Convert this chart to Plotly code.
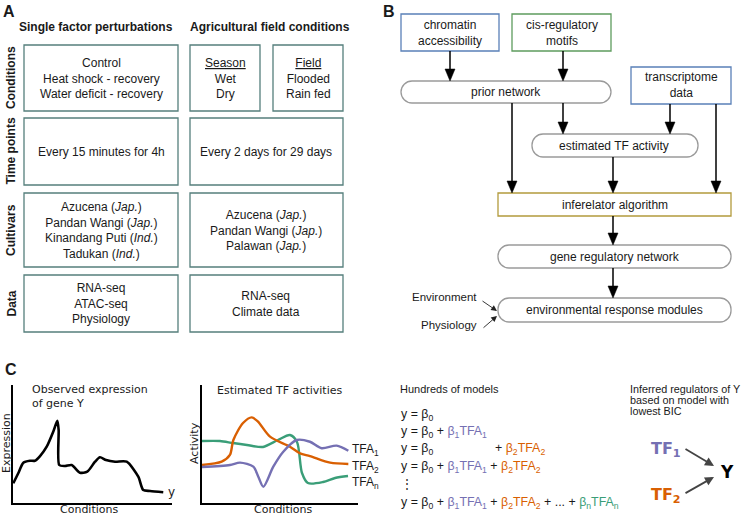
import plotly.graph_objects as go

W, H = 742, 517
ARIAL = "Liberation Sans, Arial, sans-serif"
DEJAVU = "DejaVu Sans, sans-serif"
INK = "#1a1a1a"

# ---------------- Panel A content ----------------
col_headers = ["Single factor perturbations", "Agricultural field conditions"]
row_labels = ["Conditions", "Time points", "Cultivars", "Data"]
single_conditions = ["Control", "Heat shock - recovery", "Water deficit - recovery"]
season_items = ["<u>Season</u>", "Wet", "Dry"]
field_items = ["<u>Field</u>", "Flooded", "Rain fed"]
single_time = ["Every 15 minutes for 4h"]
field_time = ["Every 2 days for 29 days"]
single_cultivars = ["Azucena (<i>Jap.</i>)", "Pandan Wangi (<i>Jap.</i>)",
                    "Kinandang Puti (<i>Ind.</i>)", "Tadukan (<i>Ind.</i>)"]
field_cultivars = ["Azucena (<i>Jap.</i>)", "Pandan Wangi (<i>Jap.</i>)", "Palawan (<i>Jap.</i>)"]
single_data = ["RNA-seq", "ATAC-seq", "Physiology"]
field_data = ["RNA-seq", "Climate data"]

# ---------------- Panel B content ----------------
input_nodes = ["chromatin<br>accessibility", "cis-regulatory<br>motifs", "transcriptome<br>data"]
process_nodes = ["prior network", "estimated TF activity", "inferelator algorithm",
                 "gene regulatory network", "environmental response modules"]
side_inputs = ["Environment", "Physiology"]

# ---------------- Panel C data ----------------
expr_x = [0.02, 0.33, 0.65, 1.07, 1.38, 1.70, 2.12, 2.53, 2.79, 2.87, 2.91, 3.27, 3.69,
          4.21, 4.67, 5.16, 5.47, 5.85, 6.42, 7.15, 7.88, 8.19, 8.62, 9.45]
expr_y = [1.67, 2.52, 3.42, 3.58, 3.58, 3.98, 4.77, 6.04, 6.97, 6.19, 3.22, 3.14, 3.22,
          2.57, 2.65, 3.50, 3.87, 3.64, 3.50, 3.50, 2.23, 1.10, 1.02, 0.91]

tfa1_x = [0.0, 1.79, 2.44, 3.29, 3.61, 3.93, 4.57, 5.21, 6.07, 6.92, 7.67, 8.63, 9.38]
tfa1_y = [3.05, 3.22, 3.42, 3.08, 2.23, 1.38, 3.08, 4.35, 5.34, 5.19, 4.64, 4.86, 4.43]
tfa2_x = [0.0, 1.26, 1.79, 2.01, 2.63, 3.19, 3.59, 4.36, 5.64, 6.28, 6.92, 8.21, 9.38]
tfa2_y = [3.22, 3.50, 4.07, 5.34, 6.78, 7.26, 6.89, 5.62, 4.77, 4.21, 3.98, 3.42, 3.31]
tfan_x = [0.0, 1.15, 1.99, 2.88, 3.91, 4.87, 5.64, 6.09, 6.41, 6.79, 7.76, 8.53, 9.36]
tfan_y = [5.25, 5.25, 5.08, 4.92, 4.75, 5.34, 5.76, 5.17, 2.54, 1.69, 1.78, 2.12, 2.29]
tfa_labels = ["TFA<sub>1</sub>", "TFA<sub>2</sub>", "TFA<sub>n</sub>"]

PURPLE, ORANGE, GREEN = "#7570b3", "#d95f02", "#3a9e78"

B0 = "β<sub>0</sub>"
T1 = f"<span style='color:{PURPLE}'>β<sub>1</sub>TFA<sub>1</sub></span>"
T2 = f"<span style='color:{ORANGE}'>β<sub>2</sub>TFA<sub>2</sub></span>"
TN = f"<span style='color:{GREEN}'>β<sub>n</sub>TFA<sub>n</sub></span>"
equations = [
    f"y = {B0}",
    f"y = {B0} + {T1}",
    f"y = {B0}",
    f"y = {B0} + {T1} + {T2}",
    "⋮",
    f"y = {B0} + {T1} + {T2} + ... + {TN}",
]
eq3_extra = f"+ {T2}"
bic_lines = ["Inferred regulators of Y", "based on model with", "lowest BIC"]

# ---------------- helpers ----------------
def X(v):
    return v / W

def Y(v):
    return 1 - v / H

shapes = []
annotations = []

def rect(x0, y0, x1, y1, color, width=1.3):
    shapes.append(dict(type="rect", xref="paper", yref="paper",
                       x0=X(x0), x1=X(x1), y0=Y(y1), y1=Y(y0),
                       line=dict(color=color, width=width), fillcolor="rgba(0,0,0,0)"))

def rounded(x0, y0, x1, y1, color="#9a9a9a", width=1.3):
    r = min(11, (y1 - y0) / 2)
    k = 0.5523 * r
    p = (f"M{X(x0+r)},{Y(y0)} L{X(x1-r)},{Y(y0)} "
         f"C{X(x1-r+k)},{Y(y0)} {X(x1)},{Y(y0+r-k)} {X(x1)},{Y(y0+r)} "
         f"L{X(x1)},{Y(y1-r)} "
         f"C{X(x1)},{Y(y1-r+k)} {X(x1-r+k)},{Y(y1)} {X(x1-r)},{Y(y1)} "
         f"L{X(x0+r)},{Y(y1)} "
         f"C{X(x0+r-k)},{Y(y1)} {X(x0)},{Y(y1-r+k)} {X(x0)},{Y(y1-r)} "
         f"L{X(x0)},{Y(y0+r)} "
         f"C{X(x0)},{Y(y0+r-k)} {X(x0+r-k)},{Y(y0)} {X(x0+r)},{Y(y0)} Z")
    shapes.append(dict(type="path", xref="paper", yref="paper", path=p,
                       line=dict(color=color, width=width), fillcolor="rgba(0,0,0,0)"))

def arrow_down(x, y0, y1, head=12, half=5, with_head=True):
    end = y1 - head + 1 if with_head else y1
    shapes.append(dict(type="line", xref="paper", yref="paper",
                       x0=X(x), x1=X(x), y0=Y(y0), y1=Y(end),
                       line=dict(color="black", width=1.5)))
    if with_head:
        p = f"M{X(x-half)},{Y(y1-head)} L{X(x+half)},{Y(y1-head)} L{X(x)},{Y(y1)} Z"
        shapes.append(dict(type="path", xref="paper", yref="paper", path=p,
                           line=dict(color="black", width=0.5), fillcolor="black"))

def txt(x, y, text, size=12, family=ARIAL, color=INK, xanchor="center", angle=0):
    annotations.append(dict(x=X(x), y=Y(y), xref="paper", yref="paper", text=text,
                            showarrow=False, xanchor=xanchor, yanchor="middle",
                            textangle=angle, font=dict(size=size, family=family, color=color)))

def arrow_ann(hx, hy, tx, ty, color, width, size, head=2):
    annotations.append(dict(x=X(hx), y=Y(hy), xref="paper", yref="paper", text="",
                            showarrow=True, ax=tx - hx, ay=ty - hy,
                            arrowhead=head, arrowwidth=width, arrowsize=size,
                            arrowcolor=color, standoff=0, startstandoff=0))

# ---------------- Panel A ----------------
A_COL = "#557f7c"
txt(9, 11, "<b>A</b>", size=16)
txt(96, 27, f"<b>{col_headers[0]}</b>", size=12)
txt(270, 27, f"<b>{col_headers[1]}</b>", size=12)
row_y = [(45, 111), (118, 185), (193, 267), (275, 332)]
for lab, (a, b) in zip(row_labels, row_y):
    txt(11, (a + b) / 2, f"<b>{lab}</b>", size=12, angle=-90)
    rect(24, a, 178, b, A_COL)
rect(190, 45, 260, 111, A_COL)
rect(273, 45, 343, 111, A_COL)
for (a, b) in row_y[1:]:
    rect(190, a, 343, b, A_COL)

txt(101, 78, "<br>".join(single_conditions))
txt(225, 78, "<br>".join(season_items))
txt(308, 78, "<br>".join(field_items))
txt(101, 152, "<br>".join(single_time))
txt(266, 152, "<br>".join(field_time))
txt(101, 230.5, "<br>".join(single_cultivars))
txt(266, 230.7, "<br>".join(field_cultivars))
txt(101, 303.3, "<br>".join(single_data))
txt(266, 304, "<br>".join(field_data))

# ---------------- Panel B ----------------
txt(389, 11, "<b>B</b>", size=16)
BLUE, BGREEN, OLIVE = "#5a80b8", "#5e9c5e", "#b39b3c"
rect(401, 14, 499, 51, BLUE)
rect(512, 14, 611, 51, BGREEN)
rect(631, 67, 731, 104, BLUE)
txt(450, 33, input_nodes[0])
txt(561.5, 33, input_nodes[1])
txt(681, 85.5, input_nodes[2])

rounded(401, 81, 611, 103)
rounded(532, 134, 698, 157)
rect(498, 193, 731, 216, OLIVE)
rounded(498, 245, 731, 268)
rounded(498, 298, 731, 322)
txt(506, 92, process_nodes[0])
txt(614, 145.5, process_nodes[1])
txt(614.5, 204.5, process_nodes[2])
txt(614.5, 256.5, process_nodes[3])
txt(614.5, 310, process_nodes[4])

arrow_down(450, 51, 81)
arrow_down(563, 51, 81)
arrow_down(563, 103, 134)
arrow_down(670, 104, 134)
arrow_down(512, 103, 193)
arrow_down(613, 157, 193)
arrow_down(716, 104, 193)
arrow_down(613, 216, 245)
arrow_down(613, 268, 298)

txt(479, 297, side_inputs[0], size=11.5, xanchor="right")
txt(479, 325, side_inputs[1], size=11.5, xanchor="right")
arrow_ann(497, 311, 481, 300, "#222", 0.9, 1.3)
arrow_ann(497, 316, 482, 329, "#222", 0.9, 1.3)

# ---------------- Panel C ----------------
txt(11, 369, "<b>C</b>", size=16)
txt(30, 389, "Observed expression", size=11, family=DEJAVU, xanchor="left")
txt(30, 403, "of gene Y", size=11, family=DEJAVU, xanchor="left")
txt(6, 443, "Expression", size=11, family=DEJAVU, angle=-90)
txt(89, 509.5, "Conditions", size=11, family=DEJAVU)
txt(166, 492, "y", size=12, family=DEJAVU, xanchor="left")

txt(215, 390, "Estimated TF activities", size=11, family=DEJAVU, xanchor="left")
txt(194, 443, "Activity", size=11, family=DEJAVU, angle=-90)
txt(283, 509.5, "Conditions", size=11, family=DEJAVU)
for lab, yy in zip(tfa_labels, [450, 467, 483]):
    txt(350, yy, lab, size=12, family=ARIAL, xanchor="left")

txt(398, 389, "Hundreds of models", size=11, xanchor="left")
for eq, yy in zip(equations, [415, 432, 449, 467, 484, 503]):
    txt(399, yy, eq, size=12.4, family=ARIAL, xanchor="left")
txt(493, 449, eq3_extra, size=12.4, family=ARIAL, xanchor="left")

for line, yy in zip(bic_lines, [389, 400, 411]):
    txt(628, yy, line, size=10.8, xanchor="left")

txt(649, 449, f"<b>TF<sub>1</sub></b>", size=16, family=DEJAVU, color=PURPLE, xanchor="left")
txt(649, 495, f"<b>TF<sub>2</sub></b>", size=16, family=DEJAVU, color=ORANGE, xanchor="left")
txt(727, 472, "<b>Y</b>", size=17, family=DEJAVU, color="black")
arrow_ann(714, 466, 684, 448, "#444", 1.8, 1.0)
arrow_ann(714, 477, 684, 494, "#444", 1.8, 1.0)

fig = go.Figure()
fig.add_trace(go.Scatter(x=expr_x, y=expr_y, mode="lines", xaxis="x2", yaxis="y2",
                         line=dict(color="black", width=2.6, shape="spline", smoothing=0.7),
                         hoverinfo="skip"))
for xs, ys, col in [(tfan_x, tfan_y, GREEN), (tfa2_x, tfa2_y, ORANGE), (tfa1_x, tfa1_y, PURPLE)]:
    fig.add_trace(go.Scatter(x=xs, y=ys, mode="lines", xaxis="x3", yaxis="y3",
                             line=dict(color=col, width=2.4, shape="spline", smoothing=0.8),
                             hoverinfo="skip"))

ax_common = dict(range=[0, 10], showline=True, linecolor="black", linewidth=2,
                 showgrid=False, zeroline=False, showticklabels=False, ticks="", fixedrange=True)
ydom = [(517 - 503) / H, (517 - 385) / H]
fig.update_layout(
    width=W, height=H, margin=dict(l=0, r=0, t=0, b=0),
    paper_bgcolor="white", plot_bgcolor="rgba(0,0,0,0)", showlegend=False,
    xaxis=dict(visible=False), yaxis=dict(visible=False),
    xaxis2=dict(domain=[13 / W, 172 / W], anchor="y2", **ax_common),
    yaxis2=dict(domain=ydom, anchor="x2", **ax_common),
    xaxis3=dict(domain=[202 / W, 358 / W], anchor="y3", **ax_common),
    yaxis3=dict(domain=ydom, anchor="x3", **ax_common),
    shapes=shapes, annotations=annotations,
)
fig.write_html("out.html", config={"displayModeBar": False},
               post_script="document.body.style.margin='0';document.body.style.overflow='hidden';")
